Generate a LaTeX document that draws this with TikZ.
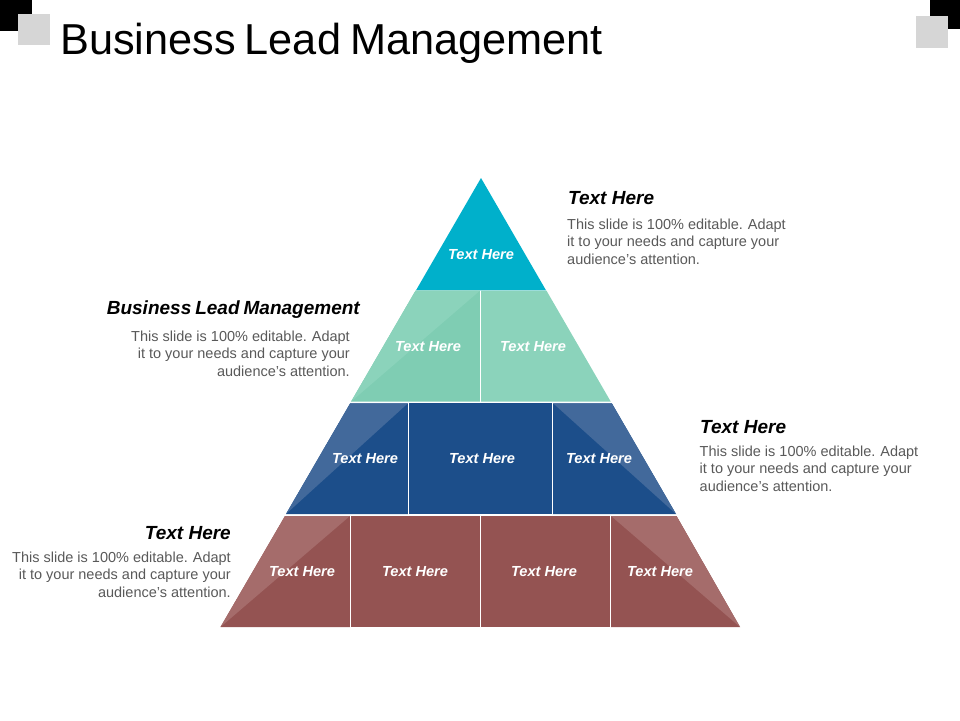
\documentclass[tikz,border=0pt]{standalone}
\usepackage{fontspec}
\setmainfont{Liberation Sans}
\definecolor{cyanT}{HTML}{00B0CB}
\definecolor{mint}{HTML}{7FCDB3}
\definecolor{mintL}{HTML}{8BD3BB}
\definecolor{navy}{HTML}{1C4E8A}
\definecolor{navyL}{HTML}{42699B}
\definecolor{brick}{HTML}{945352}
\definecolor{brickL}{HTML}{A56C6B}
\definecolor{bodygray}{HTML}{595959}
\definecolor{squaregray}{HTML}{D6D6D6}
\newcommand{\bodytext}{This slide is 100\% editable.\hspace{5pt}Adapt\\it to your needs and capture your\\audience's attention.}
\tikzset{
  cell/.style={text=white,font=\fontsize{14.6}{17}\selectfont\bfseries\itshape,inner sep=0pt},
  head/.style={text=black,font=\fontsize{19}{22}\selectfont\bfseries\itshape,inner sep=0pt},
  bodyL/.style={text=bodygray,font=\fontsize{14.5}{17.5}\selectfont,inner sep=0pt,align=left,anchor=north west},
  bodyR/.style={text=bodygray,font=\fontsize{14.5}{17.5}\selectfont,inner sep=0pt,align=right,anchor=north east},
}
\begin{document}
\begin{tikzpicture}[x=1pt,y=-1pt]
\useasboundingbox (0,0) rectangle (960,720);
% corners
\fill[black] (0,0) rectangle (32,31);
\fill[squaregray] (18,14) rectangle (50,45);
\fill[black] (930,0) rectangle (960,29);
\fill[squaregray] (916,16) rectangle (948,48);
\node[anchor=base west,inner sep=0pt,font=\fontsize{43.3}{50}\selectfont] (title) at (60,54.5) {Business\hspace{9pt}Lead\hspace{9pt}Management};
% row 1
\fill[cyanT] (481,178) -- (546,290.3) -- (416,290.3) -- cycle;
% row 2
\fill[mint] (415.5,290.7) -- (479.9,290.7) -- (479.9,401.7) -- (351,401.7) -- cycle;
\fill[mintL] (415.5,290.7) -- (479.9,290.7) -- (351,401.7) -- cycle;
\fill[mintL] (481.1,290.7) -- (546.5,290.7) -- (610.8,401.7) -- (481.1,401.7) -- cycle;
% row 3
\fill[navy] (350.2,403.3) -- (407.9,403.3) -- (407.9,514) -- (286,514) -- cycle;
\fill[navyL] (350.2,403.3) -- (407.9,403.3) -- (286,514) -- cycle;
\fill[navy] (409.1,403.3) -- (551.9,403.3) -- (551.9,514) -- (409.1,514) -- cycle;
\fill[navy] (553.1,403.3) -- (611.8,403.3) -- (676,514) -- (553.1,514) -- cycle;
\fill[navyL] (553.1,403.3) -- (611.8,403.3) -- (676,514) -- cycle;
% row 4
\fill[brick] (285,516) -- (349.9,516) -- (349.9,627) -- (220.5,627) -- cycle;
\fill[brickL] (285,516) -- (349.9,516) -- (220.5,627) -- cycle;
\fill[brick] (351.1,516) -- (479.9,516) -- (479.9,627) -- (351.1,627) -- cycle;
\fill[brick] (481.1,516) -- (609.9,516) -- (609.9,627) -- (481.1,627) -- cycle;
\fill[brick] (611.1,516) -- (676.5,516) -- (740,627) -- (611.1,627) -- cycle;
\fill[brickL] (611.1,516) -- (676.5,516) -- (740,627) -- cycle;
% cell labels
\node[cell] (c1) at (481,254.5) {Text Here};
\node[cell] (c2a) at (428,346.5) {Text Here};
\node[cell] (c2b) at (533,346.5) {Text Here};
\node[cell] (c3a) at (365,458.5) {Text Here};
\node[cell] (c3b) at (482,458.5) {Text Here};
\node[cell] (c3c) at (599,458.5) {Text Here};
\node[cell] (c4a) at (302,571.5) {Text Here};
\node[cell] (c4b) at (415,571.5) {Text Here};
\node[cell] (c4c) at (544,571.5) {Text Here};
\node[cell] (c4d) at (660,571.5) {Text Here};
% side texts
\node[head,anchor=base west] (h1) at (568,204) {Text Here};
\node[bodyL] (b1) at (567,218.5) {\bodytext};
\node[head,anchor=base east] (h2) at (360,314) {Business\hspace{4pt}Lead\hspace{4pt}Management};
\node[bodyR] (b2) at (350,330.5) {\bodytext};
\node[head,anchor=base west] (h3) at (700,433) {Text Here};
\node[bodyL] (b3) at (699.5,445.5) {\bodytext};
\node[head,anchor=base east] (h4) at (231,539) {Text Here};
\node[bodyR] (b4) at (231,551.5) {\bodytext};
\end{tikzpicture}
\end{document}
